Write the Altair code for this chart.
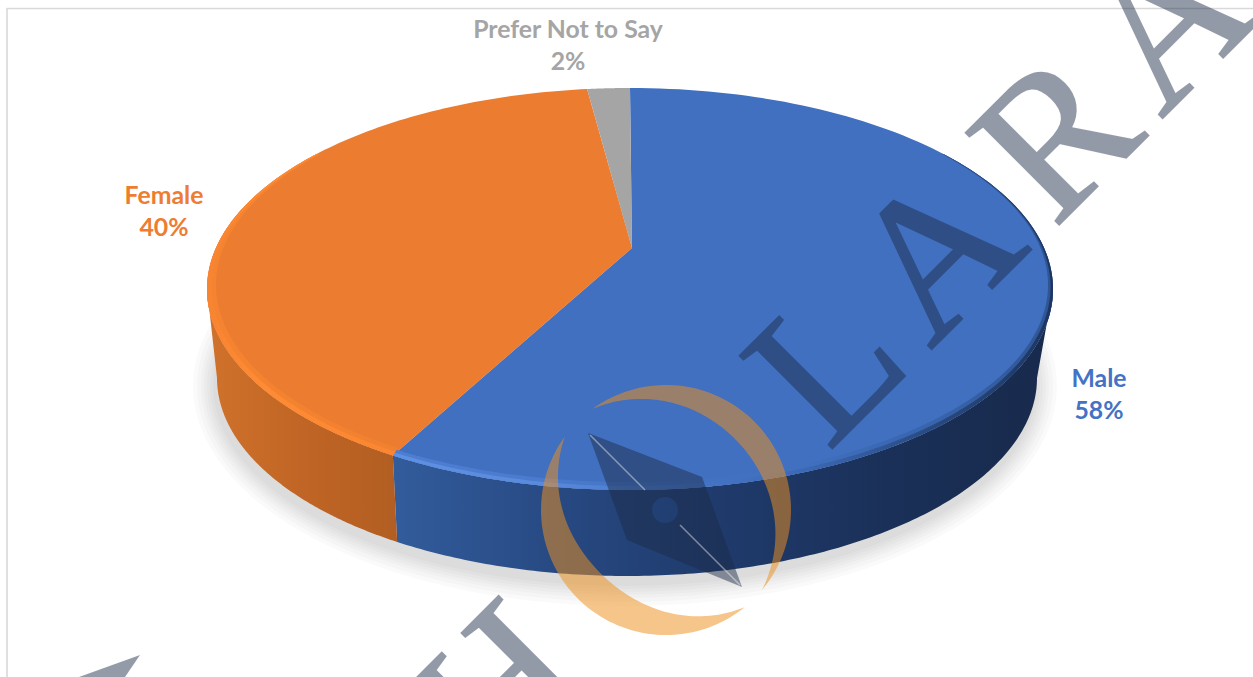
import math
import altair as alt

# Survey shares, in drawing order clockwise from twelve o'clock
categories = ["Male", "Female", "Prefer Not to Say"]
shares = [58, 40, 2]
top_colors = ["#4070BF", "#EC7C30", "#A5A5A5"]
label_colors = ["#4472C4", "#ED7D31", "#A5A5A5"]
label_x = [1099, 164, 568]
label_y = [379.5, 196.5, 30.5]

watermark_letters = ["H", "L", "A", "R", "A"]
watermark_x = [502, 829, 939, 1059, 1170]
watermark_y = [693, 367, 257, 140, 26]

W, H = 1253, 677
TOP = dict(cx=630, cy=289, rx=423, ry=201)
INNER = dict(cx=630, cy=285, rx=414, ry=197)
INNER_MID = dict(cx=630, cy=287, rx=418.5, ry=199)
INNER_RIGHT = dict(cx=627, cy=285, rx=421, ry=197)
RIM_RIGHT = dict(cx=628.5, cy=287, rx=422, ry=199)
BOTTOM = dict(cx=627, cy=378, rx=410, ry=198)
APEX = (632, 248)
SKEW = 11  # foreshortening of the disc, degrees

X_SCALE = alt.Scale(domain=[0, W], range=[0, W], nice=False, zero=False)
Y_SCALE = alt.Scale(domain=[0, H], range=[0, H], nice=False, zero=False)


def pos(field_x="x", field_y="y"):
    return dict(
        x=alt.X(f"{field_x}:Q", scale=X_SCALE, axis=None),
        y=alt.Y(f"{field_y}:Q", scale=Y_SCALE, axis=None),
    )


def rim_angle(theta):
    return theta - SKEW * math.sin(math.radians(theta))


def arc(ell, a, b, n=160):
    pts = []
    for i in range(n + 1):
        t = math.radians(a + (b - a) * i / n)
        pts.append([ell["cx"] + ell["rx"] * math.sin(t), ell["cy"] - ell["ry"] * math.cos(t)])
    return pts


def feature(rings, **props):
    closed = [r + [r[0]] for r in rings]
    return {"type": "Feature", "properties": props,
            "geometry": {"type": "Polygon", "coordinates": closed}}


def gradient(stops, x1=0, x2=1, y1=0, y2=0):
    return alt.LinearGradient(
        gradient="linear", x1=x1, x2=x2, y1=y1, y2=y2,
        stops=[alt.GradientStop(color=c, offset=o) for o, c in stops],
    )


def shape(features, **mark):
    mark.setdefault("strokeWidth", 0)
    return (
        alt.Chart(alt.Data(values=features))
        .mark_geoshape(**mark)
        .project(type="identity", scale=1, translate=[0, 0])
    )


# Cumulative slice limits
limits = [0]
for s in shares:
    limits.append(limits[-1] + s * 3.6)
edges = [rim_angle(v) for v in limits]
seam = edges[1]

layers = []

# Frame of the chart area
frame = alt.Chart(alt.Data(values=[{"x": 7, "y": 8, "x2": 7, "y2": H}, {"x": 7, "y": 8.5, "x2": W, "y2": 8.5}]))
layers.append(
    frame.mark_rule(color="#D9D9D9", strokeWidth=1.6).encode(**pos(), x2="x2:Q", y2="y2:Q")
)

# Soft shadow under the disc: stacked translucent ellipses
for grow in [22, 18, 14, 11, 8, 5, 2]:
    ell = dict(cx=BOTTOM["cx"] - 2, cy=BOTTOM["cy"] + 8, rx=BOTTOM["rx"] + grow, ry=BOTTOM["ry"] + grow)
    layers.append(shape([feature([arc(ell, 0, 360)])], fill="#000000", fillOpacity=0.02))

# Side wall, one piece per visible slice
wall_blue = arc(TOP, 90, seam) + arc(BOTTOM, seam, 90)
wall_orange = arc(TOP, seam, 270) + arc(BOTTOM, 270, seam)
layers.append(shape([feature([wall_blue])], fill=gradient(
    [(0, "#325C9C"), (0.28, "#26477F"), (0.5, "#1F3A6B"), (0.75, "#1A3058"), (1, "#182A4C")])))
layers.append(shape([feature([wall_orange])], fill=gradient(
    [(0, "#D0722B"), (0.5, "#C06525"), (1, "#B25E22")])))

# Top face of each slice
for i, color in enumerate(top_colors):
    wedge = [list(APEX)] + arc(TOP, edges[i], edges[i + 1])
    layers.append(shape([feature([wedge])], fill=color))

# Bevel along the front of the rim, in two steps so its inner edge stays soft
layers.append(shape([feature([arc(TOP, 48, seam) + arc(INNER_RIGHT, seam, 48)])], fill=gradient(
    [(0, "#4D7ED2"), (0.22, "#4A7BCE"), (0.45, "#4272C2"), (0.62, "#4070BF"), (0.82, "#3864AE"), (1, "#2F5596")])))
layers.append(shape([feature([arc(TOP, 48, seam) + arc(RIM_RIGHT, seam, 48)])], fill=gradient(
    [(0, "#5E90E4"), (0.22, "#5A8ADB"), (0.45, "#4676C8"), (0.62, "#3C69B6"), (0.82, "#28497F"), (1, "#1D3660")])))
layers.append(shape([feature([arc(TOP, seam, 312) + arc(INNER, 312, seam)])], fill=gradient(
    [(0, "#F2812F"), (1, "#F58330")], x1=1, x2=0)))
layers.append(shape([feature([arc(TOP, seam, 312) + arc(INNER_MID, 312, seam)])], fill=gradient(
    [(0, "#FA8633"), (0.7, "#FF8B35"), (1, "#F88432")], x1=1, x2=0)))

# Data labels: category name over its percentage
label_rows = []
for name, share, color, x, y in zip(categories, shares, label_colors, label_x, label_y):
    label_rows.append({"t": name, "x": x, "y": y, "c": color})
    label_rows.append({"t": f"{share}%", "x": x, "y": y + 32.5, "c": color})
layers.append(
    alt.Chart(alt.Data(values=label_rows))
    .mark_text(font="Lato", fontWeight="bold", fontSize=24.8, align="center", baseline="middle")
    .encode(**pos(), text="t:N", color=alt.Color("c:N", scale=None))
)

# Diagonal publisher mark laid over the chart
letter_rows = [{"t": t, "x": x, "y": y} for t, x, y in zip(watermark_letters, watermark_x, watermark_y)]
layers.append(
    alt.Chart(alt.Data(values=letter_rows))
    .mark_text(font="Liberation Serif", fontSize=200, angle=315, align="center", baseline="middle",
               color="#1C2A46", stroke="#1C2A46", strokeWidth=2, opacity=0.47, clip=True)
    .encode(**pos(), text="t:N")
)
layers.append(shape([feature([[[140, 655], [79, 677], [125, 677]]])], fill="#1C2A46", fillOpacity=0.47))


def crescent(a, b, thickness, cx=666, cy=510, r=125, n=80):
    outer, inner = [], []
    for i in range(n + 1):
        f = i / n
        ang = math.radians(a + (b - a) * f)
        outer.append([cx + r * math.cos(ang), cy + r * math.sin(ang)])
        rr = r - thickness * math.sin(math.pi * f)
        inner.append([cx + rr * math.cos(ang), cy + rr * math.sin(ang)])
    return outer + inner[::-1]


layers.append(shape([feature([crescent(-126, 40, 26)]), feature([crescent(51, 216, 34)])],
                    fill="#EE901F", fillOpacity=0.52))

hole = [[665 + 13 * math.cos(math.radians(d)), 510 - 13 * math.sin(math.radians(d))] for d in range(0, 360, 10)]
nib = [[588, 433], [702, 477], [742, 587], [627, 540]]
layers.append(shape([feature([nib, hole])], fill="#1C2A46", fillOpacity=0.47))
slit = alt.Chart(alt.Data(values=[
    {"x": 590, "y": 435, "x2": 645, "y2": 490},
    {"x": 680, "y": 525, "x2": 740, "y2": 585},
]))
layers.append(slit.mark_rule(color="#FFFFFF", opacity=0.42, strokeWidth=1.6).encode(**pos(), x2="x2:Q", y2="y2:Q"))

chart = (
    alt.layer(*layers)
    .properties(width=W, height=H, padding=0, autosize=alt.AutoSizeParams(type="none"))
    .configure_view(stroke=None)
)
chart.save("out.html", embed_options={"renderer": "svg", "actions": False})
